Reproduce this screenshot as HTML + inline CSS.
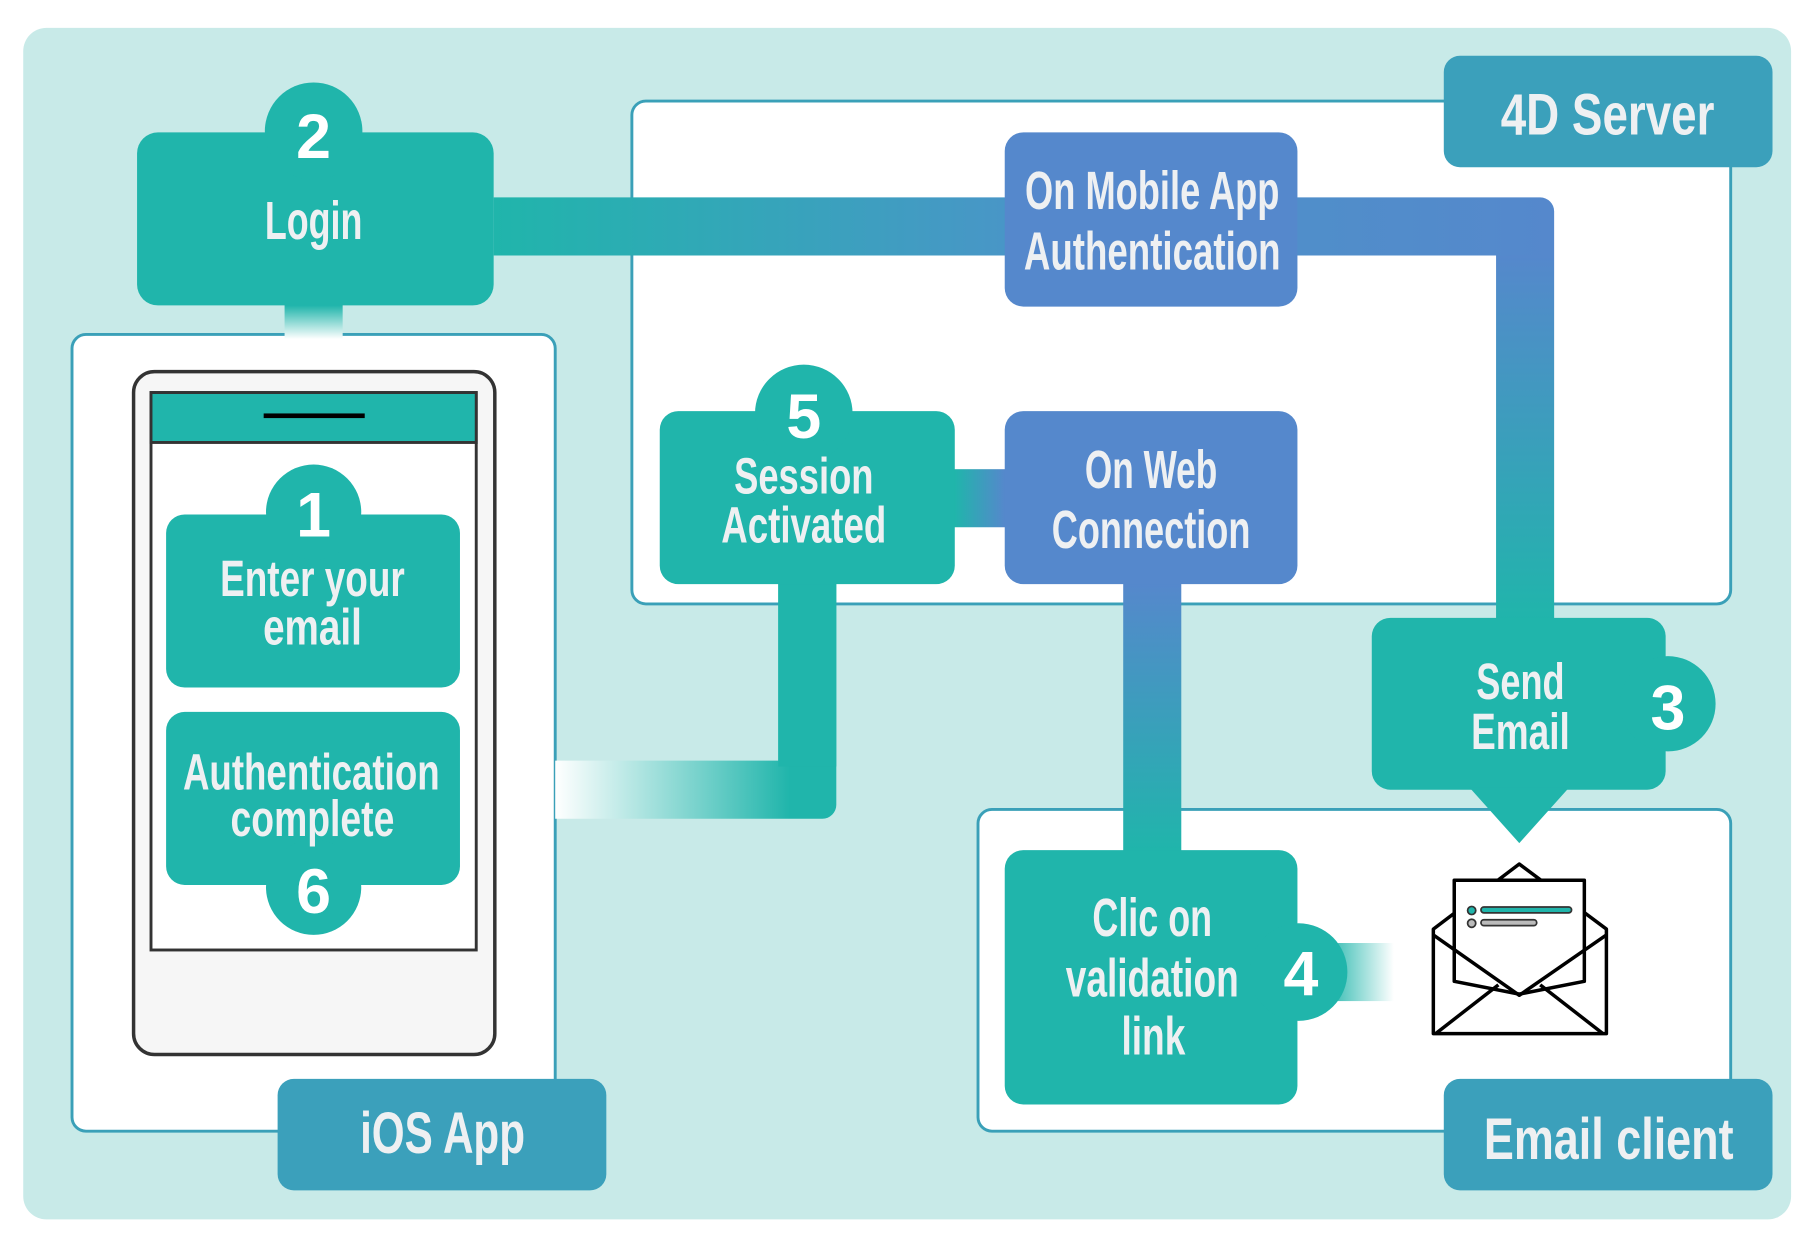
<!DOCTYPE html>
<html><head><meta charset="utf-8"><style>
html,body{margin:0;padding:0;background:#fff;width:1812px;height:1238px;overflow:hidden}
svg{display:block}
text{font-family:"Liberation Sans Narrow","Liberation Sans",sans-serif;fill:#eef0f2;text-anchor:middle;font-weight:bold}
.n{font-family:"Liberation Sans",sans-serif;font-weight:bold;fill:#fff;font-size:54px}
</style></head><body>
<svg width="1812" height="1238" viewBox="0 0 1560 1066" preserveAspectRatio="none" xmlns="http://www.w3.org/2000/svg">
<defs>
<linearGradient id="gTop" x1="425" y1="0" x2="1338" y2="0" gradientUnits="userSpaceOnUse"><stop offset="0" stop-color="#20b5ab"/><stop offset="0.5" stop-color="#4a95c8"/><stop offset="1" stop-color="#5588cc"/></linearGradient>
<linearGradient id="gDown" x1="0" y1="220" x2="0" y2="535" gradientUnits="userSpaceOnUse"><stop offset="0" stop-color="#5588cc"/><stop offset="1" stop-color="#20b5ab"/></linearGradient>
<linearGradient id="gWeb" x1="0" y1="503" x2="0" y2="732" gradientUnits="userSpaceOnUse"><stop offset="0" stop-color="#5588cc"/><stop offset="1" stop-color="#20b5ab"/></linearGradient>
<linearGradient id="gSW" x1="822" y1="0" x2="865" y2="0" gradientUnits="userSpaceOnUse"><stop offset="0" stop-color="#20b5ab"/><stop offset="1" stop-color="#5588cc"/></linearGradient>
<linearGradient id="gFadeL" x1="478" y1="0" x2="680" y2="0" gradientUnits="userSpaceOnUse"><stop offset="0" stop-color="#fff"/><stop offset="1" stop-color="#20b5ab"/></linearGradient>
<linearGradient id="gFadeR" x1="1200" y1="0" x2="1140" y2="0" gradientUnits="userSpaceOnUse"><stop offset="0" stop-color="#fff"/><stop offset="1" stop-color="#20b5ab"/></linearGradient>
<linearGradient id="gFadeD" x1="0" y1="263" x2="0" y2="292" gradientUnits="userSpaceOnUse"><stop offset="0" stop-color="#20b5ab"/><stop offset="1" stop-color="#fff"/></linearGradient>
</defs>
<rect x="20" y="24" width="1522" height="1026" rx="20" fill="#c8eae8"/>
<rect x="544" y="87" width="946" height="433" rx="12" fill="#fff" stroke="#3aa0b8" stroke-width="2.5"/>
<rect x="62" y="288" width="416" height="686" rx="12" fill="#fff" stroke="#3aa0b8" stroke-width="2.5"/>
<rect x="842" y="697" width="648" height="277" rx="12" fill="#fff" stroke="#3aa0b8" stroke-width="2.5"/>
<path d="M425 170 H1326 a12 12 0 0 1 12 12 V220 H425 Z" fill="url(#gTop)"/>
<rect x="1288" y="220" width="50" height="315" fill="url(#gDown)"/>
<rect x="245" y="262" width="50" height="30" fill="url(#gFadeD)"/>
<path d="M670 500 H720 V693 a12 12 0 0 1 -12 12 H478 V655 H670 Z" fill="url(#gFadeL)"/>
<rect x="670" y="500" width="50" height="160" fill="#20b5ab"/>
<rect x="820" y="404" width="48" height="50" fill="url(#gSW)"/>
<rect x="967" y="500" width="50" height="235" fill="url(#gWeb)"/>
<rect x="1140" y="812" width="60" height="50" fill="url(#gFadeR)"/>
<rect x="1243" y="48" width="283" height="96" rx="14" fill="#3ba0bb"/>
<text x="1384" y="116" font-size="50" textLength="184" lengthAdjust="spacingAndGlyphs">4D Server</text>
<rect x="239" y="929" width="283" height="96" rx="14" fill="#3ba0bb"/>
<text x="381" y="993" font-size="50" textLength="142" lengthAdjust="spacingAndGlyphs">iOS App</text>
<rect x="1243" y="929" width="283" height="96" rx="14" fill="#3ba0bb"/>
<text x="1385" y="998" font-size="50" textLength="215" lengthAdjust="spacingAndGlyphs">Email client</text>
<rect x="118" y="114" width="307" height="149" rx="18" fill="#20b5ab"/>
<circle cx="270" cy="113" r="42" fill="#20b5ab"/>
<text class="n" x="270" y="136">2</text>
<text x="270" y="206" font-size="46" textLength="84" lengthAdjust="spacingAndGlyphs">Login</text>
<rect x="865" y="114" width="252" height="150" rx="16" fill="#5588cc"/>
<text x="992" y="180" font-size="46" textLength="219" lengthAdjust="spacingAndGlyphs">On Mobile App</text>
<text x="992" y="232" font-size="46" textLength="221" lengthAdjust="spacingAndGlyphs">Authentication</text>
<rect x="568" y="354" width="254" height="149" rx="16" fill="#20b5ab"/>
<circle cx="692" cy="356" r="42" fill="#20b5ab"/>
<text class="n" x="692" y="377">5</text>
<text x="692" y="425" font-size="44" textLength="120" lengthAdjust="spacingAndGlyphs">Session</text>
<text x="692" y="467" font-size="44" textLength="142" lengthAdjust="spacingAndGlyphs">Activated</text>
<rect x="865" y="354" width="252" height="149" rx="16" fill="#5588cc"/>
<text x="991" y="420" font-size="46" textLength="114" lengthAdjust="spacingAndGlyphs">On Web</text>
<text x="991" y="472" font-size="46" textLength="171" lengthAdjust="spacingAndGlyphs">Connection</text>
<rect x="865" y="732" width="252" height="219" rx="16" fill="#20b5ab"/>
<circle cx="1118" cy="837" r="42" fill="#20b5ab"/>
<text class="n" x="1120" y="857">4</text>
<text x="992" y="806" font-size="46" textLength="103" lengthAdjust="spacingAndGlyphs">Clic on</text>
<text x="992" y="858" font-size="46" textLength="149" lengthAdjust="spacingAndGlyphs">validation</text>
<text x="993" y="908" font-size="46" textLength="55" lengthAdjust="spacingAndGlyphs">link</text>
<rect x="1181" y="532" width="253" height="148" rx="16" fill="#20b5ab"/>
<circle cx="1436" cy="606" r="41" fill="#20b5ab"/>
<polygon points="1265,678 1351,678 1308,726" fill="#20b5ab"/>
<text class="n" x="1436" y="628">3</text>
<text x="1309" y="602" font-size="44" textLength="76" lengthAdjust="spacingAndGlyphs">Send</text>
<text x="1309" y="645" font-size="44" textLength="85" lengthAdjust="spacingAndGlyphs">Email</text>
<g fill="#fff" stroke="#000" stroke-width="3" stroke-linejoin="round">
<path d="M1234 800 L1308 744 L1383 800 V890 H1234 Z"/>
<path d="M1252 758 H1364 V845 L1308 856 L1252 845 Z"/>
<path d="M1234 805 L1308 857 L1383 805" fill="none"/>
<path d="M1236 890 L1290 848 M1380 890 L1326 848" fill="none"/>
</g>
<rect x="1275" y="781" width="78" height="5" rx="2.5" fill="#20b5ab" stroke="#333" stroke-width="1.5"/>
<rect x="1275" y="792" width="48" height="5" rx="2.5" fill="#bbb" stroke="#333" stroke-width="1.5"/>
<circle cx="1267" cy="784" r="3.5" fill="#20b5ab" stroke="#333" stroke-width="1.5"/>
<circle cx="1267" cy="795" r="3.5" fill="#bbb" stroke="#333" stroke-width="1.5"/>
<rect x="115" y="320" width="311" height="588" rx="18" fill="#f6f6f6" stroke="#333" stroke-width="3"/>
<rect x="130" y="338" width="280" height="480" fill="#fff" stroke="#333" stroke-width="2.5"/>
<rect x="130" y="338" width="280" height="43" fill="#20b5ab" stroke="#333" stroke-width="2.5"/>
<rect x="227" y="356" width="87" height="4" fill="#000"/>
<rect x="143" y="443" width="253" height="149" rx="16" fill="#20b5ab"/>
<circle cx="270" cy="441" r="41" fill="#20b5ab"/>
<text class="n" x="270" y="462">1</text>
<text x="269" y="513" font-size="44" textLength="159" lengthAdjust="spacingAndGlyphs">Enter your</text>
<text x="269" y="555" font-size="44" textLength="85" lengthAdjust="spacingAndGlyphs">email</text>
<rect x="143" y="613" width="253" height="149" rx="16" fill="#20b5ab"/>
<circle cx="270" cy="764" r="41" fill="#20b5ab"/>
<text class="n" x="270" y="786">6</text>
<text x="268" y="680" font-size="44" textLength="221" lengthAdjust="spacingAndGlyphs">Authentication</text>
<text x="269" y="720" font-size="44" textLength="141" lengthAdjust="spacingAndGlyphs">complete</text>
</svg>
</body></html>
